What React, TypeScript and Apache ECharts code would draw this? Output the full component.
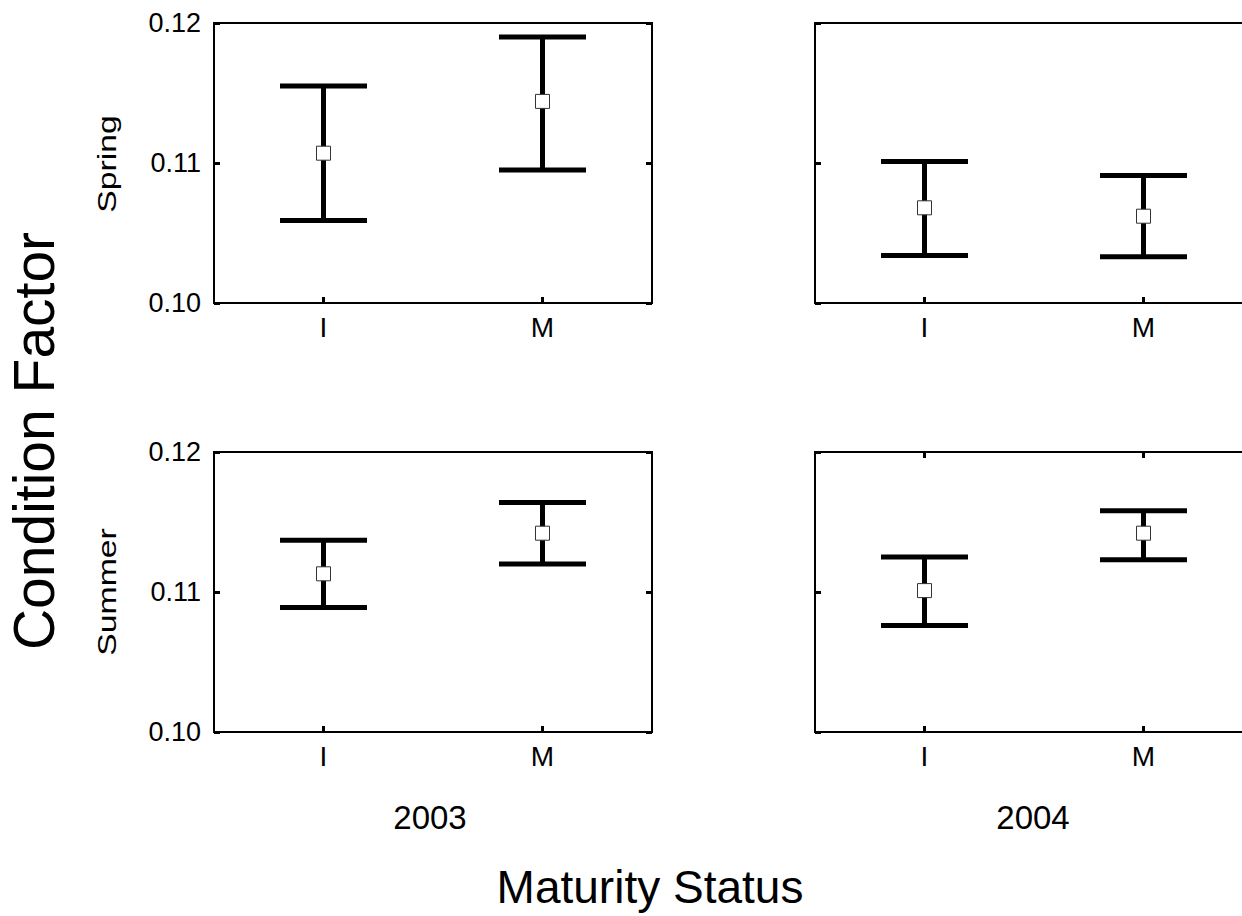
import React, { useEffect, useRef } from "react";
import * as echarts from "echarts";

const categories = ["I", "M"];

// Spring 2003
const spring2003Mean = [0.1107, 0.1144];
const spring2003Low = [0.1059, 0.1095];
const spring2003High = [0.1155, 0.119];
// Spring 2004
const spring2004Mean = [0.1068, 0.1062];
const spring2004Low = [0.1034, 0.1033];
const spring2004High = [0.1101, 0.1091];
// Summer 2003
const summer2003Mean = [0.1113, 0.1142];
const summer2003Low = [0.1089, 0.112];
const summer2003High = [0.1137, 0.1164];
// Summer 2004
const summer2004Mean = [0.1101, 0.1142];
const summer2004Low = [0.1076, 0.1123];
const summer2004High = [0.1125, 0.1158];

const panels = [
  { mean: spring2003Mean, low: spring2003Low, high: spring2003High },
  { mean: spring2004Mean, low: spring2004Low, high: spring2004High },
  { mean: summer2003Mean, low: summer2003Low, high: summer2003High },
  { mean: summer2004Mean, low: summer2004Low, high: summer2004High },
];

const FONT = "'Liberation Sans', Arial, sans-serif";

export default function App() {
  const ref = useRef<HTMLDivElement>(null);
  useEffect(() => {
    if (!ref.current) return;
    const chart = echarts.init(ref.current, null, { renderer: "svg" });

    const gridPos = [
      { left: 214, top: 23 },
      { left: 815, top: 23 },
      { left: 214, top: 452 },
      { left: 815, top: 452 },
    ];
    const grid = gridPos.map((g) => ({
      left: g.left,
      top: g.top,
      width: 438,
      height: 280,
      show: true,
      borderColor: "#000",
      borderWidth: 2,
      backgroundColor: "transparent",
      containLabel: false,
    }));

    const xAxis: any[] = [];
    const yAxis: any[] = [];
    const series: any[] = [];
    const tick = { show: true, inside: true, length: 6, lineStyle: { color: "#000", width: 3 } };

    panels.forEach((p, i) => {
      xAxis.push({
        type: "category",
        gridIndex: i,
        data: categories,
        boundaryGap: true,
        axisLine: { show: false },
        axisTick: { ...tick, alignWithLabel: true },
        axisLabel: { show: true, color: "#000", fontSize: 28, fontFamily: FONT, margin: 10 },
        splitLine: { show: false },
      });
      yAxis.push({
        type: "value",
        gridIndex: i,
        min: 0.1,
        max: 0.12,
        interval: 0.01,
        axisLine: { show: false },
        axisTick: tick,
        axisLabel: {
          show: i % 2 === 0,
          color: "#000",
          fontSize: 27,
          fontFamily: FONT,
          margin: 13,
          formatter: (v: number) => v.toFixed(2),
        },
        splitLine: { show: false },
      });
    });
    panels.forEach((p, i) => {
      yAxis.push({
        type: "value",
        gridIndex: i,
        position: "right",
        min: 0.1,
        max: 0.12,
        interval: 0.01,
        axisLine: { show: false },
        axisTick: tick,
        axisLabel: { show: false },
        splitLine: { show: false },
      });
    });
    xAxis.push({
      type: "category",
      gridIndex: 3,
      position: "top",
      data: categories,
      boundaryGap: true,
      axisLine: { show: false },
      axisTick: { ...tick, alignWithLabel: true },
      axisLabel: { show: false },
      splitLine: { show: false },
    });

    panels.forEach((p, i) => {
      series.push({
        type: "custom",
        xAxisIndex: i,
        yAxisIndex: i,
        data: categories.map((c, k) => [k, p.low[k], p.high[k]]),
        encode: { x: 0, y: [1, 2] },
        renderItem: (params: any, api: any) => {
          const x = api.value(0);
          const lo = api.coord([x, api.value(1)]);
          const hi = api.coord([x, api.value(2)]);
          const half = 43.5;
          const style = { stroke: "#000", lineWidth: 5 };
          return {
            type: "group",
            children: [
              { type: "line", shape: { x1: lo[0], y1: lo[1], x2: hi[0], y2: hi[1] }, style },
              { type: "line", shape: { x1: hi[0] - half, y1: hi[1], x2: hi[0] + half, y2: hi[1] }, style },
              { type: "line", shape: { x1: lo[0] - half, y1: lo[1], x2: lo[0] + half, y2: lo[1] }, style },
            ],
          };
        },
        z: 2,
      });
      series.push({
        type: "scatter",
        xAxisIndex: i,
        yAxisIndex: i,
        data: p.mean,
        symbol: "rect",
        symbolSize: 14,
        itemStyle: { color: "#fff", borderColor: "#333", borderWidth: 1, opacity: 1 },
        z: 3,
      });
    });

    const textStyle = (text: string, size: number) => ({
      text,
      fill: "#000",
      font: `${size}px ${FONT}`,
      align: "center",
      verticalAlign: "middle",
    });

    chart.setOption({
      animation: false,
      backgroundColor: "#fff",
      grid,
      xAxis,
      yAxis,
      series,
      graphic: [
        { type: "text", x: 34, y: 441, rotation: Math.PI / 2, style: textStyle("Condition Factor", 57) },
        { type: "text", x: 107, y: 164, rotation: Math.PI / 2, scaleX: 1.3, style: textStyle("Spring", 26) },
        { type: "text", x: 107, y: 592, rotation: Math.PI / 2, scaleX: 1.3, style: textStyle("Summer", 26) },
        { type: "text", x: 430, y: 817, style: textStyle("2003", 33) },
        { type: "text", x: 1033, y: 817, style: textStyle("2004", 33) },
        { type: "text", x: 650, y: 887, style: textStyle("Maturity Status", 46) },
      ],
    });
    return () => chart.dispose();
  }, []);
  return (
    <div style={{ position: "absolute", left: 0, top: 0, width: 1242, height: 916, overflow: "hidden", background: "#fff" }}>
      <div ref={ref} style={{ width: 1280, height: 916 }} />
    </div>
  );
}
